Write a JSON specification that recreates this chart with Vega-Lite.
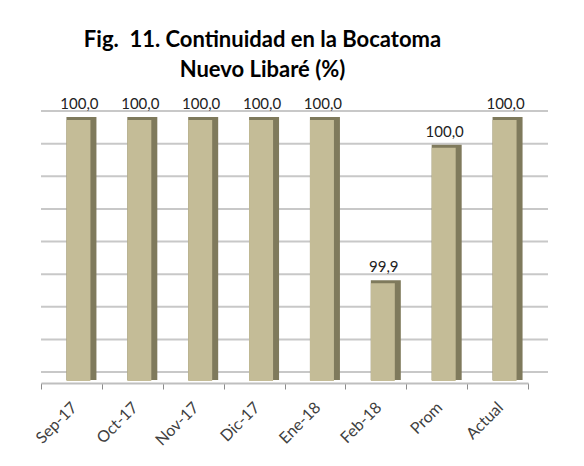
{
  "$schema": "https://vega.github.io/schema/vega-lite/v6.json",
  "width": 487,
  "height": 261,
  "autosize": {"type": "none"},
  "padding": {"left": 41, "top": 120, "right": 56, "bottom": 85},
  "background": "white",
  "config": {
    "view": {"stroke": null},
    "font": "Lato",
    "locale": {"number": {"decimal": ",", "thousands": ".", "grouping": [3], "currency": ["", ""]}}
  },
  "title": {
    "text": ["Fig.\u00a0 11. Continuidad en la Bocatoma", "Nuevo Libaré (%)"],
    "font": "Lato",
    "fontSize": 22,
    "fontWeight": "bold",
    "color": "#000000",
    "lineHeight": 30,
    "anchor": "middle",
    "dx": -22,
    "offset": 15
  },
  "data": {
    "values": [
      {"mes": "Sep-17", "valor": 100.0},
      {"mes": "Oct-17", "valor": 100.0},
      {"mes": "Nov-17", "valor": 100.0},
      {"mes": "Dic-17", "valor": 100.0},
      {"mes": "Ene-18", "valor": 100.0},
      {"mes": "Feb-18", "valor": 99.9},
      {"mes": "Prom", "valor": 99.983},
      {"mes": "Actual", "valor": 100.0}
    ]
  },
  "encoding": {
    "x": {
      "field": "mes",
      "type": "nominal",
      "sort": null,
      "scale": {"paddingInner": 0, "paddingOuter": 0},
      "axis": {
        "title": null,
        "labelAngle": -45,
        "labelFont": "Lato",
        "labelFontSize": 16,
        "labelColor": "#404040",
        "labelPadding": 10,
        "labelOffset": -3,
        "domainColor": "#bfbfbf",
        "domainWidth": 2,
        "tickColor": "#8c8c8c",
        "tickSize": 6,
        "tickBand": "extent",
        "offset": 2
      }
    }
  },
  "layer": [
    {
      "data": {"values": [{"g": 99.84}, {"g": 99.86}, {"g": 99.88}, {"g": 99.9}, {"g": 99.92}, {"g": 99.94}, {"g": 99.96}, {"g": 99.98}, {"g": 100.0}]},
      "mark": {"type": "rule", "color": "#c8c8c8", "strokeWidth": 2, "yOffset": -9, "xOffset": 20, "x2Offset": 24},
      "encoding": {
        "x": null,
        "y": {"field": "g", "type": "quantitative", "scale": {"domain": [99.84, 100], "zero": false}, "axis": null}
      }
    },
    {
      "mark": {"type": "bar", "color": "#7f7a5c", "width": 30, "xOffset": 10, "yOffset": -3, "y2Offset": -1},
      "encoding": {
        "y": {"field": "valor", "type": "quantitative", "scale": {"domain": [99.84, 100], "zero": false}, "axis": null},
        "y2": {"datum": 99.84}
      }
    },
    {
      "mark": {"type": "bar", "color": "#c4bc97", "width": 24, "xOffset": 7},
      "encoding": {
        "y": {"field": "valor", "type": "quantitative", "scale": {"domain": [99.84, 100], "zero": false}, "axis": null},
        "y2": {"datum": 99.84}
      }
    },
    {
      "mark": {"type": "text", "font": "Lato", "fontSize": 15, "color": "#222222", "dy": -8, "dx": 8, "baseline": "bottom"},
      "encoding": {
        "y": {"field": "valor", "type": "quantitative", "scale": {"domain": [99.84, 100], "zero": false}, "axis": null},
        "text": {"field": "valor", "type": "quantitative", "format": ".1f"}
      }
    }
  ]
}
